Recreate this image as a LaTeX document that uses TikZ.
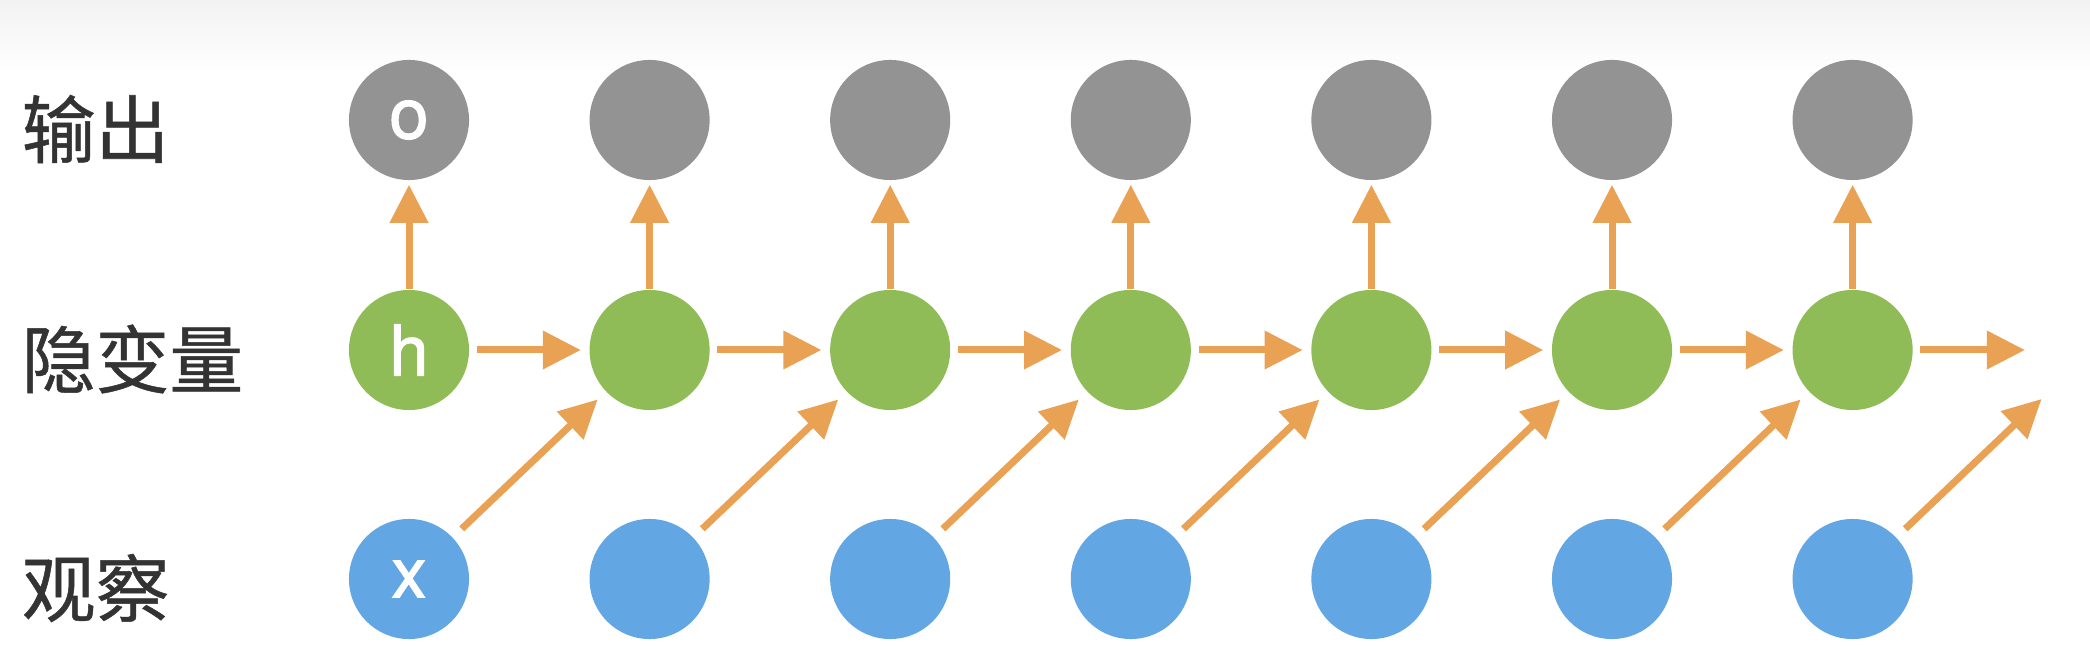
\documentclass[tikz,border=0pt]{standalone}
\usepackage{fontspec}
\setmainfont{Noto Sans CJK SC}[FakeBold=0.7]
\newfontfamily\letterfont{TeX Gyre Heros}[FakeBold=1.6]
\usepackage{tikz}
\usetikzlibrary{arrows.meta,positioning,calc}
\definecolor{outgray}{HTML}{939393}
\definecolor{hidgreen}{HTML}{8FBC56}
\definecolor{obsblue}{HTML}{62A6E3}
\definecolor{flow}{HTML}{E9A253}
\definecolor{ink}{HTML}{333333}

\begin{document}
\begin{tikzpicture}[x=0.01cm,y=-0.01cm,
  unit/.style={circle,minimum size=1.2cm,inner sep=0pt,text=white,font=\letterfont\fontsize{20}{24}\selectfont},
  rowlabel/.style={anchor=west,inner sep=0pt,text=ink,font=\fontsize{21}{25}\selectfont},
  link/.style={color=flow,line width=0.07cm,-{Triangle[length=0.38cm,width=0.37cm]}}]
  \useasboundingbox (0,0) rectangle (2090,646);
  \shade[top color=black!5,bottom color=white] (0,0) rectangle (2090,75);
  % row labels
  \node[rowlabel] (lout) at (21,129) {输出};
  \node[rowlabel] (lhid) at (21,359) {隐变量};
  \node[rowlabel] (lobs) at (21,588) {观察};
  % units per time step
  \foreach \i in {1,...,7} {
    \pgfmathsetmacro\cx{168.4+240.6*\i}
    \node[unit,fill=outgray] (o\i) at (\cx,120) {\ifnum\i=1 o\fi};
    \node[unit,fill=hidgreen] (h\i) at (\cx,350) {\ifnum\i=1 h\fi};
    \node[unit,fill=obsblue] (x\i) at (\cx,579) {\ifnum\i=1 x\fi};
  }
  \coordinate (hnext) at (2093,350);
  % connectors
  \foreach \i in {1,...,7} { \draw[link,shorten >=0.04cm] (h\i) -- (o\i); }
  \foreach \i in {1,...,6} {
    \pgfmathtruncatemacro\j{\i+1}
    \draw[link,shorten <=0.07cm,shorten >=0.08cm] (h\i) -- (h\j);
    \draw[link,shorten <=0.12cm,shorten >=0.11cm] (x\i) -- (h\j);
  }
  \draw[link,shorten <=0.07cm,shorten >=0.68cm] (h7) -- (hnext);
  \draw[link,shorten <=0.12cm,shorten >=0.71cm] (x7) -- (hnext);
\end{tikzpicture}
\end{document}
